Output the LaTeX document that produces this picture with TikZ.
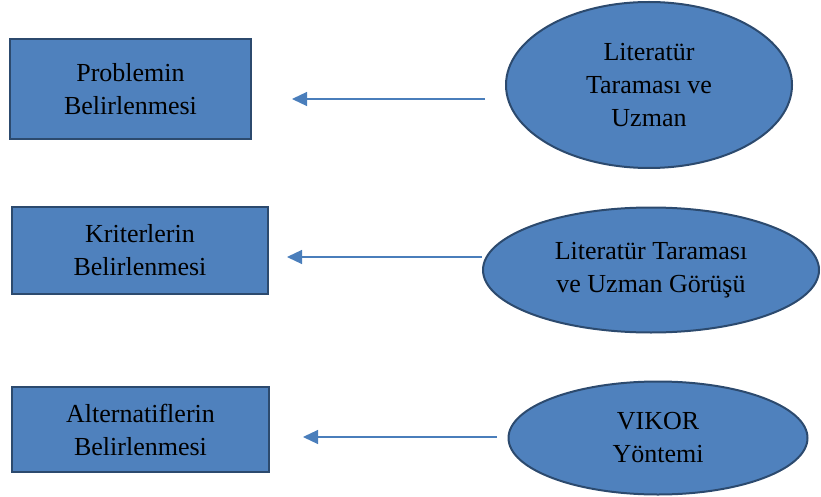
\documentclass[tikz,border=0pt]{standalone}
\usepackage{fontspec}
\setmainfont{Liberation Serif}
\usetikzlibrary{arrows.meta,shapes.geometric}
\definecolor{boxfill}{RGB}{79,129,189}
\definecolor{boxline}{RGB}{44,74,110}
\definecolor{arrowblue}{RGB}{74,126,187}
\begin{document}
\begin{tikzpicture}
[x=1pt,y=-1pt
,pbox/.style={rectangle,draw=boxline,fill=boxfill,line width=2pt,inner sep=0pt,align=center,font=\fontsize{26}{33}\selectfont}
,method/.style={ellipse,draw=boxline,fill=boxfill,line width=2pt,inner sep=0pt,align=center,font=\fontsize{26}{33}\selectfont}
,link/.style={draw=arrowblue,line width=1.2pt,arrows={-Triangle[length=15pt,width=14pt]}}]
\useasboundingbox (0,0) rectangle (821,497);
\node[pbox,minimum width=241,minimum height=100] (b1) at (130.5,89) {Problemin\\Belirlenmesi};
\node[pbox,minimum width=256,minimum height=87] (b2) at (140,250.5) {Kriterlerin\\Belirlenmesi};
\node[pbox,minimum width=257,minimum height=85] (b3) at (140.5,429.5) {Alternatiflerin\\Belirlenmesi};
\node[method,minimum width=286,minimum height=166] (e1) at (649,85) {Literatür\\Taraması ve\\Uzman};
\node[method,minimum width=336,minimum height=125] (e2) at (651,270) {Literatür Taraması\\ve Uzman Görüşü};
\node[method,minimum width=299,minimum height=113] (e3) at (658,438) {VIKOR\\Yöntemi};
\coordinate (s1) at (485,99);
\coordinate (t1) at (292,99);
\coordinate (s2) at (482,257);
\coordinate (t2) at (287,257);
\coordinate (s3) at (497,437);
\coordinate (t3) at (303,437);
\draw[link] (s1) -- (t1);
\draw[link] (s2) -- (t2);
\draw[link] (s3) -- (t3);
\end{tikzpicture}
\end{document}
